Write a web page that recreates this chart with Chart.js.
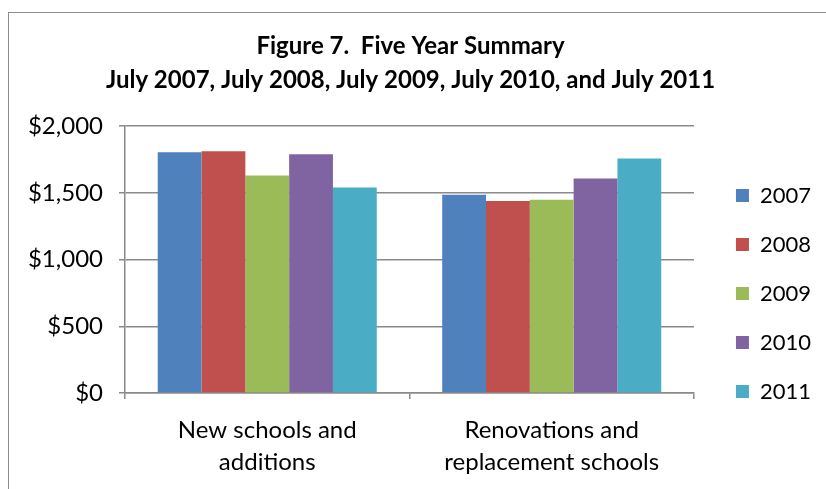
<!DOCTYPE html>
<html>
<head>
<meta charset="utf-8">
<script src="https://cdn.jsdelivr.net/npm/chart.js@4.4.1/dist/chart.umd.min.js"></script>
<style>
  html, body { margin: 0; padding: 0; background: #fff; }
  #frame { position: absolute; left: 8px; top: 12px; width: 860px; height: 520px; border: 1.5px solid #8c8c8c; }
  #wrap { position: absolute; left: 0; top: 0; width: 826px; height: 489px; }
</style>
</head>
<body>
<div id="frame"></div>
<div id="wrap"><canvas id="chart"></canvas></div>
<script>
// data (thousands of dollars)
const categories = [['New schools and', 'additions'], ['Renovations and', 'replacement schools']];
const years = ['2007', '2008', '2009', '2010', '2011'];
const values2007 = [1805, 1485];
const values2008 = [1812, 1440];
const values2009 = [1630, 1448];
const values2010 = [1790, 1608];
const values2011 = [1540, 1758];
const yTicks = [0, 500, 1000, 1500, 2000];
const titleLines = ['Figure 7.  Five Year Summary', 'July 2007, July 2008, July 2009, July 2010, and July 2011'];

const colors = ['#4F81BD', '#C0504D', '#9BBB59', '#8064A2', '#4BACC6'];
const series = [values2007, values2008, values2009, values2010, values2011];
const FONT = 'Lato, "Open Sans", sans-serif';
const gridGrey = '#8a8a8a';

const ctx = document.getElementById('chart');
new Chart(ctx, {
  type: 'bar',
  data: {
    labels: categories,
    datasets: series.map((vals, i) => ({
      label: years[i],
      data: vals,
      backgroundColor: colors[i],
      borderWidth: 0,
      categoryPercentage: 0.77,
      barPercentage: 1
    }))
  },
  options: {
    responsive: true,
    maintainAspectRatio: false,
    animation: false,
    layout: { padding: { left: 0, right: 5, top: 0, bottom: 0 } },
    plugins: {
      title: {
        display: true,
        text: titleLines,
        color: '#000',
        font: { family: FONT, size: 24, weight: 'bold', lineHeight: 1.42 },
        padding: { top: 29, bottom: 29 }
      },
      legend: {
        position: 'right',
        // blank legend title just pushes the entries down
        title: { display: true, text: '', font: { size: 12, lineHeight: 1 }, padding: { top: 86, bottom: 0 } },
        labels: {
          color: '#000',
          font: { family: FONT, size: 22 },
          boxWidth: 13,
          boxHeight: 13,
          padding: 27
        }
      },
      tooltip: { enabled: false }
    },
    scales: {
      x: {
        grid: { display: true, drawOnChartArea: false, offset: true, tickLength: 6, color: gridGrey, lineWidth: 1.5 },
        border: { color: gridGrey, width: 1.5 },
        ticks: { color: '#000', font: { family: FONT, size: 24, lineHeight: 1.33 }, padding: 15 },
        afterFit: (scale) => { scale.height = 96; }
      },
      y: {
        min: 0,
        max: 2000,
        afterBuildTicks: (scale) => { scale.ticks = yTicks.map(v => ({ value: v })); },
        grid: { color: gridGrey, lineWidth: 1.5, tickLength: 6 },
        border: { color: gridGrey, width: 1.5 },
        ticks: {
          color: '#000',
          font: { family: FONT, size: 24 },
          padding: 16,
          callback: (v) => '$' + v.toLocaleString('en-US')
        },
        afterFit: (scale) => { scale.width = 125; }
      },
      // empty spacer between plot and legend
      gap: {
        type: 'linear',
        position: 'right',
        display: true,
        grid: { display: false },
        border: { display: false },
        ticks: { display: false },
        afterFit: (scale) => { scale.width = 15; }
      }
    }
  }
});
</script>
</body>
</html>
